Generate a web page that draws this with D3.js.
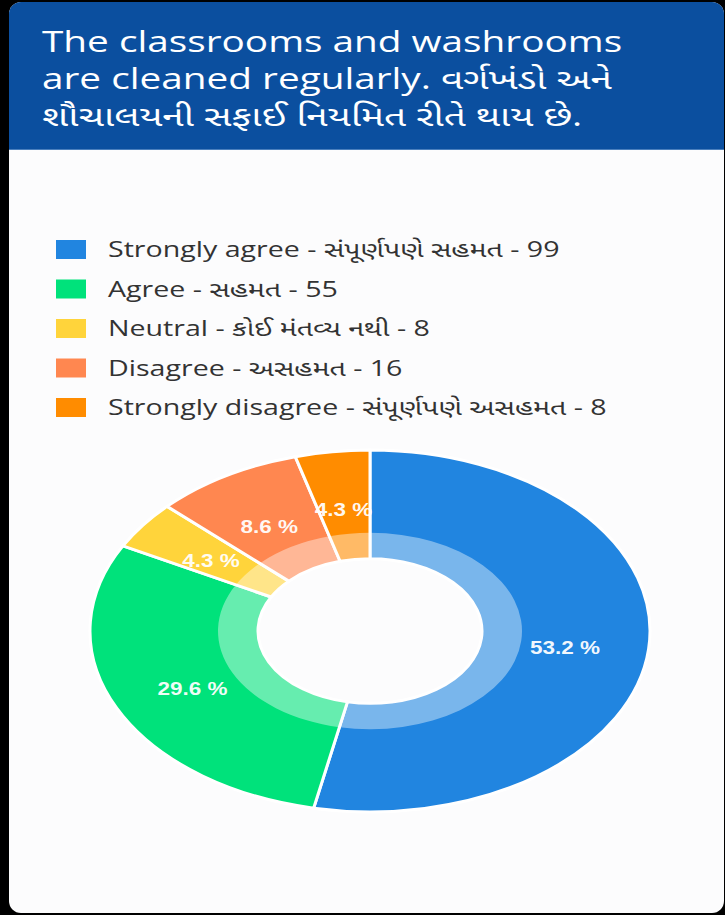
<!DOCTYPE html>
<html lang="en">
<head>
    <meta charset="UTF-8">
    <title>Classrooms and washrooms cleaned regularly</title>
    <script src="https://d3js.org/d3.v7.min.js"></script>
    <style>
        body {
            margin: 0;
            background: #000;
            font-family: 'Open Sans', 'Noto Sans', 'Noto Sans Gujarati', sans-serif;
        }
        svg { display: block; }
    </style>
</head>
<body>
<svg id="chart" width="725" height="915"></svg>

<script>
    // Survey answers
    const titleLines = [
        "The classrooms and washrooms",
        "are cleaned regularly. વર્ગખંડો અને",
        "શૌચાલયની સફાઈ નિયમિત રીતે થાય છે."
    ];
    const categories = [
        "Strongly agree - સંપૂર્ણપણે સહમત",
        "Agree - સહમત",
        "Neutral - કોઈ મંતવ્ય નથી",
        "Disagree - અસહમત",
        "Strongly disagree - સંપૂર્ણપણે અસહમત"
    ];
    const counts = [99, 55, 8, 16, 8];
    const colors = ["#2185e0", "#00e27b", "#ffd43b", "#ff8750", "#ff8c00"];

    const svg = d3.select("#chart");

    // card + header
    svg.append("rect")
        .attr("x", 9).attr("y", 2)
        .attr("width", 715).attr("height", 911)
        .attr("rx", 12)
        .attr("fill", "#fcfcfd");

    const headerPath = d3.path();
    headerPath.moveTo(9, 150);
    headerPath.lineTo(9, 14);
    headerPath.arcTo(9, 2, 21, 2, 12);
    headerPath.lineTo(712, 2);
    headerPath.arcTo(724, 2, 724, 14, 12);
    headerPath.lineTo(724, 150);
    headerPath.closePath();
    svg.append("path").attr("d", headerPath.toString()).attr("fill", "#0b4f9f");
    svg.append("line")
        .attr("x1", 9).attr("x2", 724).attr("y1", 149.5).attr("y2", 149.5)
        .attr("stroke", "#4a7fbd").attr("stroke-width", 1);

    // title (screenshot is stretched sideways, so text gets a scaleX)
    const titleSx = 1.36;
    svg.append("g")
        .attr("transform", `translate(42,0) scale(${titleSx},1)`)
        .selectAll("text")
        .data(titleLines)
        .join("text")
        .attr("x", 0)
        .attr("y", (d, i) => 52 + i * 37)
        .attr("fill", "#ffffff")
        .attr("font-size", 28.5)
        .text(d => d);

    // legend
    const legendY = d3.scaleLinear().domain([0, 1]).range([249.5, 289]);
    const rows = svg.append("g").selectAll("g")
        .data(categories)
        .join("g")
        .attr("transform", (d, i) => `translate(0,${legendY(i)})`);
    rows.append("rect")
        .attr("x", 56).attr("y", -9.5)
        .attr("width", 30).attr("height", 19)
        .attr("fill", (d, i) => colors[i]);
    rows.append("text")
        .attr("transform", "translate(108,0) scale(1.33,1)")
        .attr("dy", "0.36em")
        .attr("fill", "#333")
        .attr("font-size", 21.5)
        .text((d, i) => `${d} - ${counts[i]}`);

    // donut
    const cx = 370, cy = 631, R = 280, squash = 0.646;
    const rHole = 112, rLight = 152;
    const total = d3.sum(counts);
    const pie = d3.pie().sort(null).value(d => d);
    const arcs = pie(counts);

    const donut = svg.append("g")
        .attr("transform", `translate(${cx},${cy}) scale(1,${squash})`);

    const mainArc = d3.arc().innerRadius(rHole).outerRadius(R);
    const lightArc = d3.arc().innerRadius(rHole).outerRadius(rLight);

    donut.selectAll("path.slice")
        .data(arcs)
        .join("path")
        .attr("class", "slice")
        .attr("d", mainArc)
        .attr("fill", (d, i) => colors[i])
        .attr("stroke", "#fff")
        .attr("stroke-width", 3)
        .attr("vector-effect", "non-scaling-stroke");

    donut.selectAll("path.light")
        .data(arcs)
        .join("path")
        .attr("class", "light")
        .attr("d", lightArc)
        .attr("fill", "#fff")
        .attr("fill-opacity", 0.4);

    // percentage labels at ring centre
    const labelR = (rHole + R) / 2;
    svg.append("g")
        .selectAll("text")
        .data(arcs)
        .join("text")
        .attr("transform", d => {
            const a = (d.startAngle + d.endAngle) / 2;
            const x = cx + labelR * Math.sin(a);
            const y = cy + 4 - labelR * Math.cos(a) * squash;
            return `translate(${x},${y}) scale(1.25,1)`;
        })
        .attr("text-anchor", "middle")
        .attr("dy", "0.35em")
        .attr("fill", "#fff")
        .attr("fill-opacity", 0.95)
        .attr("font-family", "'Liberation Sans', Arial, sans-serif")
        .attr("font-weight", "bold")
        .attr("font-size", 18)
        .text(d => (d.value / total * 100).toFixed(1) + " %");
</script>
</body>
</html>
